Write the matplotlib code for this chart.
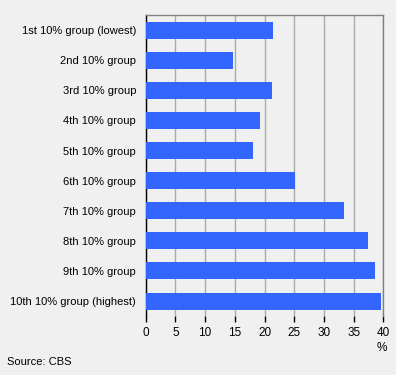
import matplotlib.pyplot as plt
import numpy as np

GROUPS = [
    "1st 10% group (lowest)",
    "2nd 10% group",
    "3rd 10% group",
    "4th 10% group",
    "5th 10% group",
    "6th 10% group",
    "7th 10% group",
    "8th 10% group",
    "9th 10% group",
    "10th 10% group (highest)",
]
VALUES = [21.4, 14.7, 21.3, 19.2, 18.1, 25.1, 33.4, 37.5, 38.6, 39.6]
XTICKS = [0, 5, 10, 15, 20, 25, 30, 35, 40]


def main() -> None:
    plt.rcParams.update({
        "font.family": ["Liberation Sans", "DejaVu Sans"],
        "font.size": 8,
    })
    bg = "#f0f0f0"
    fig = plt.figure(figsize=(3.96, 3.75), dpi=100, facecolor=bg)
    ax = fig.add_axes([0.368, 0.157, 0.6, 0.803], facecolor=bg)

    y = np.arange(len(GROUPS))
    ax.barh(y, VALUES, height=0.567, color="#3366ff", zorder=3)
    ax.set_ylim(len(GROUPS) - 0.5, -0.5)
    ax.set_yticks(y)
    ax.set_yticklabels(GROUPS)
    ax.tick_params(axis="y", length=0, pad=7)

    ax.set_xlim(0, 40)
    ax.set_xticks(XTICKS)
    ax.tick_params(axis="x", length=4, width=1, color="black", pad=4, labelsize=8.5)
    ax.grid(axis="x", color="#aaaaaa", linewidth=1, zorder=0)

    ax.spines["left"].set_color("black")
    ax.spines["top"].set_color("#808080")
    ax.spines["right"].set_color("#808080")
    ax.spines["bottom"].set_visible(False)
    for s in ("left", "top", "right"):
        ax.spines[s].set_linewidth(1)

    fig.text(382 / 396, 1 - 348 / 375, "%", ha="center", va="center", fontsize=8.5)
    fig.text(7 / 396, 1 - 362 / 375, "Source: CBS", ha="left", va="center")

    fig.savefig("out.png", dpi=100, facecolor=bg)


if __name__ == "__main__":
    main()
